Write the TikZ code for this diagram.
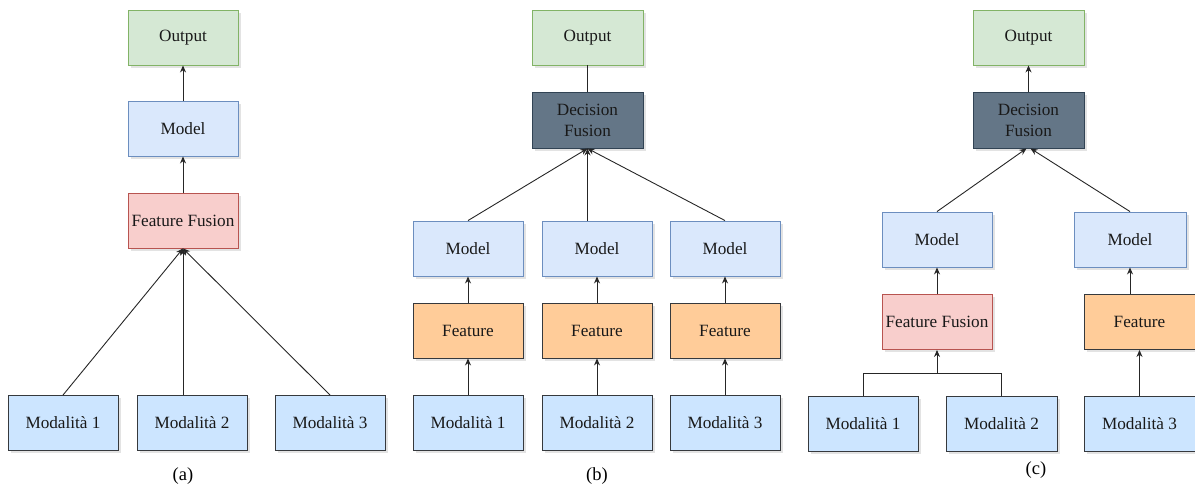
\documentclass[tikz,border=0pt]{standalone}
\usepackage{fontspec}
\setmainfont{Liberation Serif}
\usetikzlibrary{arrows.meta,shadows}
\definecolor{outFill}{HTML}{D5E8D4}\definecolor{outLine}{HTML}{82B366}
\definecolor{modFill}{HTML}{DAE8FC}\definecolor{modLine}{HTML}{6C8EBF}
\definecolor{ffFill}{HTML}{F8CECC}\definecolor{ffLine}{HTML}{B85450}
\definecolor{featFill}{HTML}{FFCC99}\definecolor{darkLine}{HTML}{36393D}
\definecolor{srcFill}{HTML}{CCE5FF}
\definecolor{dfFill}{HTML}{647687}\definecolor{dfLine}{HTML}{314354}
\definecolor{wire}{HTML}{262626}
\tikzset{
  box/.style={draw, line width=0.9pt, minimum width=110pt, minimum height=55pt,
    inner sep=1pt, align=center, font=\fontsize{17.2}{21}\selectfont, text=black!90,
    drop shadow={opacity=0.22, shadow xshift=2.5pt, shadow yshift=-2.5pt}},
  outbox/.style={box, fill=outFill, draw=outLine},
  modbox/.style={box, fill=modFill, draw=modLine},
  ffbox/.style={box, fill=ffFill, draw=ffLine},
  featbox/.style={box, fill=featFill, draw=darkLine},
  srcbox/.style={box, fill=srcFill, draw=darkLine},
  dfbox/.style={box, fill=dfFill, draw=dfLine, minimum width=111pt, minimum height=56pt},
  link/.style={draw=wire, line width=0.9pt},
  arr/.style={link, -{Stealth[length=7pt,width=6pt]}},
  caption/.style={font=\fontsize{18.5}{21}\selectfont}
}
\begin{document}
\begin{tikzpicture}[x=1pt,y=-1pt]
\useasboundingbox (0,0) rectangle (1195,488);

% ---- (a) early fusion ----
\node[outbox] (aout) at (183,37.5) {Output};
\node[modbox] (amod) at (183,128.5) {Model};
\node[ffbox]  (aff)  at (183,220.5) {Feature Fusion};
\node[srcbox] (am1) at (63,423) {Modalità 1};
\node[srcbox] (am2) at (192,423) {Modalità 2};
\node[srcbox] (am3) at (330,423) {Modalità 3};
\draw[arr] (amod) -- (aout);
\draw[arr] (aff) -- (amod);
\draw[arr] (am1.north) -- (aff.south);
\draw[arr] (am2.north -| aff.south) -- (aff.south);
\draw[arr] (am3.north) -- (aff.south);
\node[caption] (capa) at (183,476) {(a)};

% ---- (b) late fusion ----
\node[outbox, minimum width=111pt] (bout) at (587.5,37.5) {Output};
\node[dfbox] (bdf) at (587.5,120) {Decision\\Fusion};
\foreach \i/\x in {1/468,2/597,3/725}{
  \node[modbox]  (bmod\i) at (\x,248.5) {Model};
  \node[featbox] (bf\i)   at (\x,330.5) {Feature};
  \node[srcbox]  (bm\i)   at (\x,423)   {Modalità \i};
  \draw[arr] (bf\i) -- (bmod\i);
  \draw[arr] (bm\i) -- (bf\i);
}
\draw[link] (bdf) -- (bout);
\draw[arr] (bmod1.north) -- (bdf.south);
\draw[arr] (bmod2.north -| bdf.south) -- (bdf.south);
\draw[arr] (bmod3.north) -- (bdf.south);
\node[caption] (capb) at (597,476) {(b)};

% ---- (c) hybrid fusion ----
\node[outbox, minimum width=111pt] (cout) at (1028.5,37.5) {Output};
\node[dfbox] (cdf) at (1028.5,120) {Decision\\Fusion};
\node[modbox]  (cmod1) at (937,239.5)   {Model};
\node[modbox, minimum width=112pt] (cmod2) at (1130,239.5) {Model};
\node[ffbox]   (cff)   at (937,322)     {Feature Fusion};
\node[featbox, minimum width=111pt] (cf) at (1139.5,322) {Feature};
\node[srcbox]  (cm1) at (863,423.5)    {Modalità 1};
\node[srcbox, minimum width=111pt] (cm2) at (1001.5,423.5) {Modalità 2};
\node[srcbox, minimum width=111pt] (cm3) at (1139.5,423.5) {Modalità 3};
\coordinate (cj) at (937,373);
\draw[arr] (cdf) -- (cout);
\draw[arr] (cmod1.north) -- ([xshift=-2pt]cdf.south);
\draw[arr] (cmod2.north) -- ([xshift=2pt]cdf.south);
\draw[arr] (cff) -- (cmod1);
\draw[arr] (cmod2.south |- cf.north) -- (cmod2.south);
\draw[arr] (cm3) -- (cf);
\draw[link] (cm1.north) |- (cj);
\draw[link] (cm2.north) |- (cj);
\draw[arr] (cj) -- (cff.south);
\node[caption] (capc) at (1036,470) {(c)};
\end{tikzpicture}
\end{document}
